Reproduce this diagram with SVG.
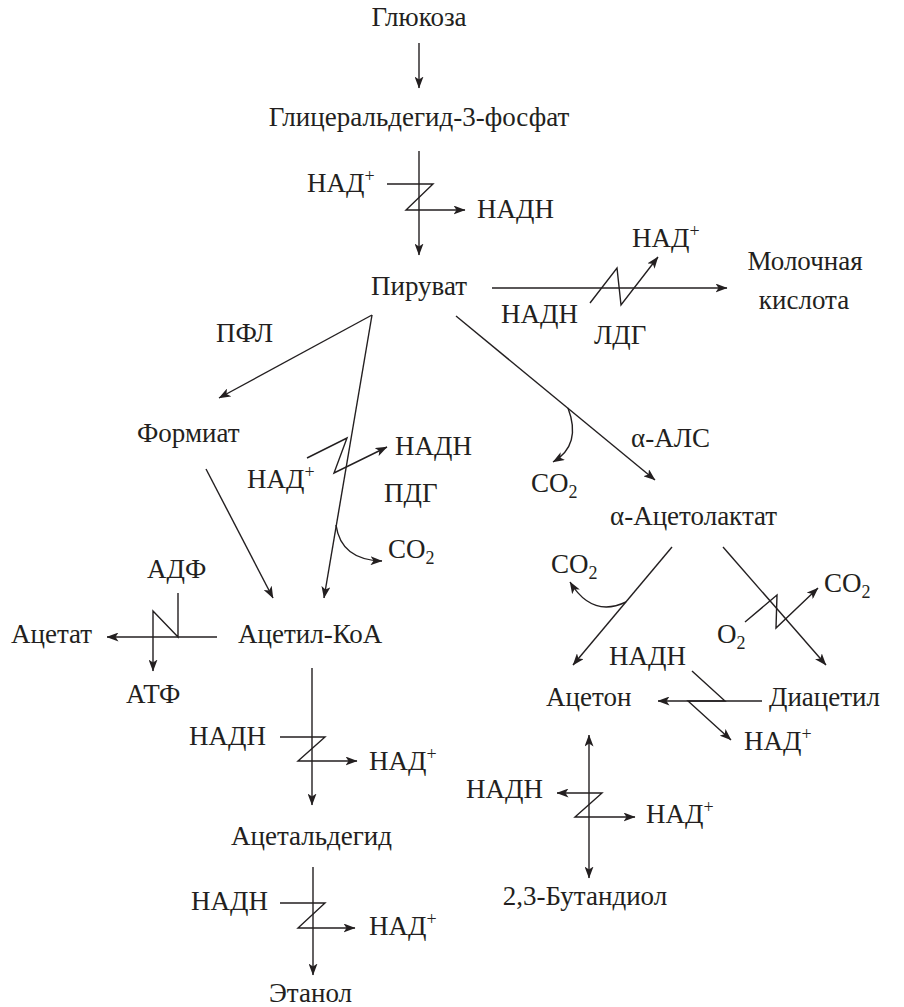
<svg xmlns="http://www.w3.org/2000/svg" width="904" height="1007" viewBox="0 0 904 1007">
<style>
text{font-family:'Liberation Serif','Times New Roman',serif;font-size:27px;fill:#231f20}
.sup{font-size:18px}
.c{text-anchor:middle}
.ln{fill:none;stroke:#231f20;stroke-width:1.4}
.a{marker-end:url(#ah)}
.b{marker-start:url(#ah);marker-end:url(#ah)}
</style>
<defs>
<marker id="ah" viewBox="0 0 12 9" refX="11.5" refY="4.5" markerWidth="12" markerHeight="9" markerUnits="userSpaceOnUse" orient="auto-start-reverse">
<path d="M0,0 L12,4.5 L0,9 L3,4.5 Z" fill="#231f20"/>
</marker>
</defs>
<rect width="904" height="1007" fill="#ffffff"/>
<g id="connectors">
<line class="ln a" x1="419" y1="43" x2="419" y2="88"/>
<line class="ln a" x1="419" y1="151" x2="419" y2="255"/>
<polyline class="ln a" points="387,184 433,184 406,210 465,210"/>
<line class="ln a" x1="492" y1="288" x2="727" y2="288"/>
<polyline class="ln a" points="590,303 617,268 621,305 658,257"/>
<line class="ln a" x1="372" y1="315" x2="219" y2="398"/>
<line class="ln a" x1="372" y1="315" x2="324" y2="598"/>
<line class="ln a" x1="206" y1="469" x2="273" y2="598"/>
<polyline class="ln a" points="307,458 347,438 334,473 387,447"/>
<path class="ln a" d="M336,525 Q341,560 382,561"/>
<line class="ln a" x1="456" y1="316" x2="655" y2="480"/>
<path class="ln a" d="M568,408 Q582,445 553,462"/>
<line class="ln a" x1="217" y1="637" x2="107" y2="637"/>
<polyline class="ln a" points="178,593 178,637 153,611 153,671"/>
<line class="ln a" x1="312" y1="668" x2="312" y2="805"/>
<polyline class="ln a" points="280,737 325,737 298,761 357,761"/>
<line class="ln a" x1="313" y1="867" x2="313" y2="975"/>
<polyline class="ln a" points="280,903 325,903 298,928 355,928"/>
<line class="ln a" x1="672" y1="547" x2="573" y2="665"/>
<path class="ln a" d="M626,602 Q592,618 570,582"/>
<line class="ln a" x1="723" y1="547" x2="826" y2="665"/>
<polyline class="ln a" points="745,622 777,595 776,628 818,588"/>
<line class="ln a" x1="762" y1="701" x2="658" y2="701"/>
<polyline class="ln a" points="692,671 725,701 688,701 731,740"/>
<line class="ln b" x1="589" y1="735" x2="589" y2="878"/>
<polyline class="ln b" points="557,793 602,793 575,817 635,817"/>
</g>
<g id="n-glucose"><text class="c" x="419" y="26">Глюкоза</text></g>
<g id="n-g3p"><text class="c" x="419" y="126">Глицеральдегид-3-фосфат</text></g>
<g id="n-nad1"><text x="307" y="192">НАД<tspan class="sup" dy="-10">+</tspan></text></g>
<g id="n-nadh1"><text x="477" y="218">НАДН</text></g>
<g id="n-pyruvate"><text class="c" x="419" y="295">Пируват</text></g>
<g id="n-nad2"><text x="632" y="247">НАД<tspan class="sup" dy="-10">+</tspan></text></g>
<g id="n-lactic"><text class="c" x="805" y="270">Молочная</text><text class="c" x="804" y="309">кислота</text></g>
<g id="n-nadh2"><text x="501" y="323">НАДН</text></g>
<g id="n-ldg"><text x="594" y="344">ЛДГ</text></g>
<g id="n-pfl"><text x="216" y="342">ПФЛ</text></g>
<g id="n-formiate"><text x="137" y="442">Формиат</text></g>
<g id="n-nadh3"><text x="395" y="455">НАДН</text></g>
<g id="n-nad3"><text x="247" y="488">НАД<tspan class="sup" dy="-10">+</tspan></text></g>
<g id="n-pdg"><text x="384" y="502">ПДГ</text></g>
<g id="n-co2a"><text x="388" y="558">CO<tspan class="sup" dy="6">2</tspan></text></g>
<g id="n-als"><text x="631" y="447">α-АЛС</text></g>
<g id="n-co2b"><text x="531" y="492">CO<tspan class="sup" dy="6">2</tspan></text></g>
<g id="n-acetolactate"><text x="610" y="525">α-Ацетолактат</text></g>
<g id="n-co2c"><text x="551" y="573">CO<tspan class="sup" dy="6">2</tspan></text></g>
<g id="n-co2d"><text x="824" y="592">CO<tspan class="sup" dy="6">2</tspan></text></g>
<g id="n-o2"><text x="717" y="643">O<tspan class="sup" dy="6">2</tspan></text></g>
<g id="n-adp"><text x="147" y="578">АДФ</text></g>
<g id="n-acetate"><text x="11" y="643">Ацетат</text></g>
<g id="n-acetylcoa"><text x="238" y="643">Ацетил-КоА</text></g>
<g id="n-atp"><text x="126" y="703">АТФ</text></g>
<g id="n-nadh4"><text x="609" y="665">НАДН</text></g>
<g id="n-acetone"><text x="546" y="706">Ацетон</text></g>
<g id="n-diacetyl"><text x="769" y="706">Диацетил</text></g>
<g id="n-nad4"><text x="744" y="750">НАД<tspan class="sup" dy="-10">+</tspan></text></g>
<g id="n-nadh5"><text x="189" y="745">НАДН</text></g>
<g id="n-nad5"><text x="369" y="770">НАД<tspan class="sup" dy="-10">+</tspan></text></g>
<g id="n-nadh6"><text x="466" y="798">НАДН</text></g>
<g id="n-nad6"><text x="646" y="823">НАД<tspan class="sup" dy="-10">+</tspan></text></g>
<g id="n-acetaldehyde"><text x="231" y="845">Ацетальдегид</text></g>
<g id="n-butanediol"><text class="c" x="585" y="905">2,3-Бутандиол</text></g>
<g id="n-nadh7"><text x="191" y="910">НАДН</text></g>
<g id="n-nad7"><text x="369" y="935">НАД<tspan class="sup" dy="-10">+</tspan></text></g>
<g id="n-ethanol"><text x="269" y="1002">Этанол</text></g>
</svg>
